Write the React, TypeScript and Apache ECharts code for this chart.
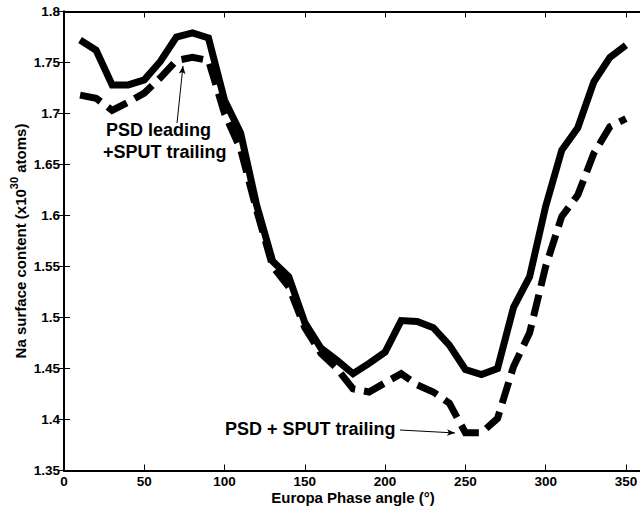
import React, { useEffect, useRef } from "react";
import * as echarts from "echarts";

const phaseAngles = [10, 20, 30, 40, 50, 60, 70, 80, 90, 100, 110, 120, 130, 140, 150, 160, 170, 180, 190, 200, 210, 220, 230, 240, 250, 260, 270, 280, 290, 300, 310, 320, 330, 340, 350];
const solidValues = [1.772, 1.762, 1.728, 1.728, 1.733, 1.751, 1.775, 1.779, 1.774, 1.713, 1.681, 1.61, 1.555, 1.54, 1.495, 1.47, 1.458, 1.445, 1.455, 1.466, 1.497, 1.496, 1.49, 1.473, 1.449, 1.444, 1.45, 1.51, 1.54, 1.609, 1.664, 1.686, 1.731, 1.755, 1.767];
const dashedValues = [1.718, 1.715, 1.703, 1.711, 1.72, 1.735, 1.752, 1.755, 1.752, 1.7, 1.665, 1.605, 1.55, 1.53, 1.49, 1.465, 1.45, 1.43, 1.427, 1.436, 1.445, 1.434, 1.427, 1.416, 1.387, 1.387, 1.401, 1.452, 1.485, 1.55, 1.599, 1.62, 1.661, 1.687, 1.695];

const arrowLeading = [[70.4, 1.6907], [74.1, 1.7466]];
const arrowTrailing = [[209.3, 1.3897], [243.5, 1.3868]];

const FONT = "'Liberation Sans', Arial, Helvetica, sans-serif";

export default function App() {
  const ref = useRef<HTMLDivElement>(null);
  useEffect(() => {
    if (!ref.current) return;
    const chart = echarts.init(ref.current, undefined, { renderer: "svg" });
    const axisLine = { show: true, lineStyle: { color: "#000", width: 2 } };
    const axisTick = { show: true, inside: true, length: 6, lineStyle: { color: "#000", width: 1 } };
    chart.setOption({
      animation: false,
      backgroundColor: "#fff",
      grid: { left: 64, right: 18, top: 11.5, bottom: 35.5, containLabel: false, outerBoundsMode: "none" },
      xAxis: [
        {
          type: "value",
          min: 0,
          max: 360,
          interval: 50,
          axisLine,
          axisTick,
          splitLine: { show: false },
          axisLabel: { color: "#000", fontFamily: FONT, fontWeight: "bold", fontSize: 13.5, lineHeight: 13, margin: 4.5, showMaxLabel: false },
          name: "Europa Phase angle (°)",
          nameLocation: "middle",
          nameGap: 19,
          nameMoveOverlap: false,
          nameTextStyle: { color: "#000", fontFamily: FONT, fontWeight: "bold", fontSize: 15, lineHeight: 15, verticalAlign: "top" },
        },
        {
          type: "value",
          position: "top",
          min: 0,
          max: 360,
          interval: 50,
          axisLine,
          axisTick,
          splitLine: { show: false },
          axisLabel: { show: false },
        },
      ],
      yAxis: [
        {
          type: "value",
          min: 1.35,
          max: 1.8,
          interval: 0.05,
          axisLine,
          axisTick,
          splitLine: { show: false },
          axisLabel: {
            color: "#000",
            fontFamily: FONT,
            fontWeight: "bold",
            fontSize: 13.5,
            margin: 4,
            formatter: (v: number) => String(+v.toFixed(2)),
          },
          name: "{a|Na surface content (x10}{s|30}{a| atoms)}",
          nameLocation: "middle",
          nameGap: 32,
          nameRotate: 90,
          nameMoveOverlap: false,
          nameTextStyle: {
            color: "#000",
            fontFamily: FONT,
            fontWeight: "bold",
            fontSize: 15,
            rich: {
              a: { color: "#000", fontFamily: FONT, fontWeight: "bold", fontSize: 15, lineHeight: 24 },
              s: { color: "#000", fontFamily: FONT, fontWeight: "bold", fontSize: 11, lineHeight: 24, verticalAlign: "top" },
            },
          },
        },
        {
          type: "value",
          position: "right",
          min: 1.35,
          max: 1.8,
          interval: 0.05,
          axisLine,
          axisTick,
          splitLine: { show: false },
          axisLabel: { show: false },
        },
      ],
      series: [
        {
          type: "line",
          name: "PSD leading + SPUT trailing",
          data: phaseAngles.map((x, i) => [x, solidValues[i]]),
          showSymbol: false,
          symbol: "none",
          lineStyle: { color: "#000", width: 7, type: "solid", join: "miter", cap: "butt" },
          z: 2,
          markLine: {
            silent: true,
            symbol: ["none", "arrow"],
            symbolSize: [5, 8],
            label: { show: false },
            lineStyle: { color: "#000", width: 1, type: "solid" },
            data: [
              [{ coord: arrowLeading[0] }, { coord: arrowLeading[1] }],
              [{ coord: arrowTrailing[0] }, { coord: arrowTrailing[1] }],
            ],
          },
        },
        {
          type: "line",
          name: "PSD + SPUT trailing",
          data: phaseAngles.map((x, i) => [x, dashedValues[i]]),
          showSymbol: false,
          symbol: "none",
          lineStyle: { color: "#000", width: 7, type: [22, 9], join: "miter", cap: "butt" },
          z: 3,
        },
      ],
      graphic: [
        { type: "text", x: 106, y: 130, style: { text: "PSD leading", font: `bold 18px ${FONT}`, fill: "#000", verticalAlign: "middle" } },
        { type: "text", x: 103, y: 152, style: { text: "+SPUT trailing", font: `bold 18px ${FONT}`, fill: "#000", verticalAlign: "middle" } },
        { type: "text", x: 225, y: 429, style: { text: "PSD + SPUT trailing", font: `bold 18px ${FONT}`, fill: "#000", verticalAlign: "middle" } },
      ],
    });
    return () => chart.dispose();
  }, []);
  return (
    <div style={{ position: "fixed", left: 0, top: 0, width: 640, height: 506, overflow: "hidden", background: "#fff" }}>
      <div ref={ref} style={{ width: 660, height: 506 }} />
    </div>
  );
}
